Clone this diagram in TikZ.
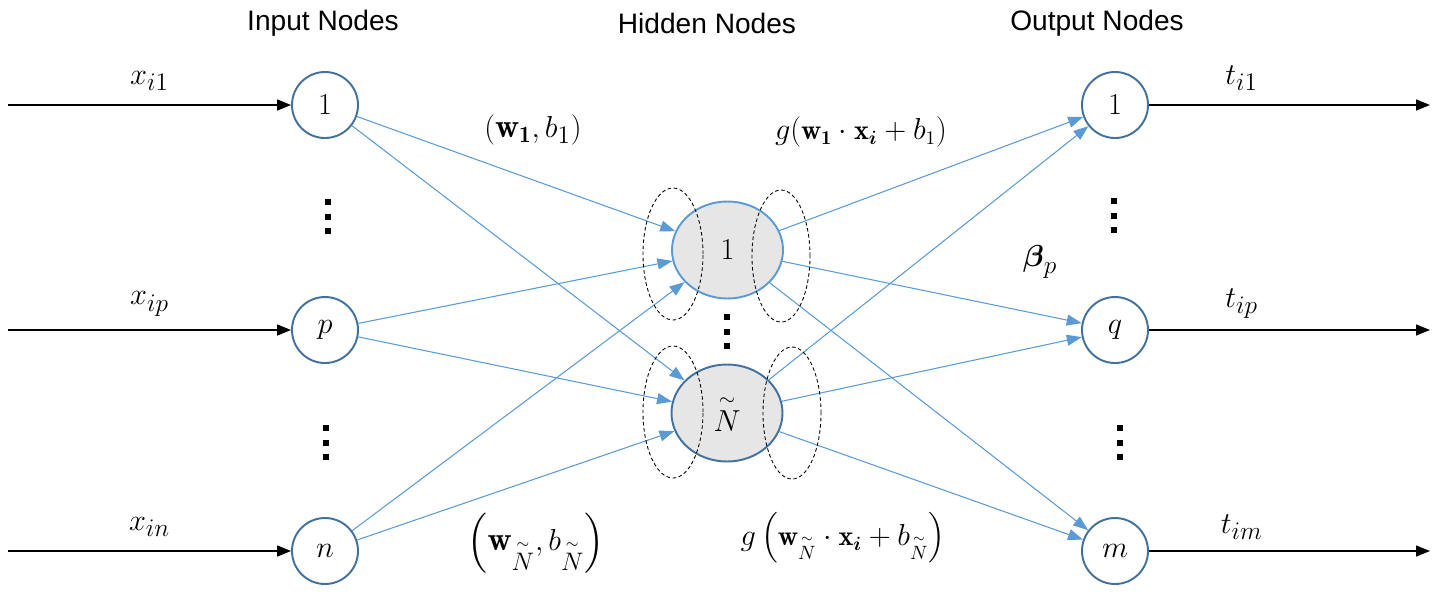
\documentclass[tikz,border=0pt]{standalone}
\usepackage{amsmath}
\usepackage{amssymb}
\usepackage{fontspec}
\newfontfamily\headfont{Liberation Sans}
\usetikzlibrary{arrows.meta,positioning,calc,shapes.geometric}
\definecolor{linkblue}{HTML}{5B9BD5}
\definecolor{rimblue}{HTML}{41719C}
\definecolor{hidgray}{HTML}{E6E6E6}
\newcommand{\Nt}{\overset{\sim}{N}}

\begin{document}
\begin{tikzpicture}[
  unit/.style={circle, draw=rimblue, line width=1.1pt, fill=white, minimum size=13.2mm, inner sep=0pt, font=\fontsize{18}{21}\selectfont},
  hid/.style={ellipse, draw=rimblue, line width=1.1pt, fill=hidgray, minimum width=22.2mm, minimum height=19.4mm, inner sep=0pt, font=\fontsize{17}{20}\selectfont},
  link/.style={linkblue, line width=0.6pt, -{Triangle[length=3mm,width=2.2mm]}},
  io/.style={black, line width=0.8pt, -{Triangle[length=2.8mm,width=2.2mm]}},
  lab/.style={font=\fontsize{19}{22}\selectfont},
  wlab/.style={font=\fontsize{16}{19}\selectfont},
  head/.style={font=\headfont\fontsize{16}{19}\selectfont},
  ring/.style={dash pattern=on 2pt off 1.5pt, line width=0.5pt}]
  \useasboundingbox (0,0) rectangle (28.74,-11.88);
  % column headings
  \node[head] (hin) at (6.46,-0.46) {Input Nodes};
  \node[head] (hhid) at (14.14,-0.46) {Hidden Nodes};
  \node[head] (hout) at (21.94,-0.46) {Output Nodes};
  % input, hidden and output units
  \node[unit] (in1) at (6.5,-2.1) {$1$};
  \node[unit] (inp) at (6.5,-6.6) {$p$};
  \node[unit] (inn) at (6.5,-11.02) {$n$};
  \node[hid, draw=linkblue] (hid1) at (14.55,-5.0) {$1$};
  \node[hid] (hidN) at (14.54,-8.26) {$\Nt$};
  \node[unit] (out1) at (22.3,-2.1) {$1$};
  \node[unit] (outq) at (22.3,-6.6) {$q$};
  \node[unit] (outm) at (22.3,-11.02) {$m$};
  % links
  \foreach \s in {in1,inp,inn} {
    \foreach \t in {hid1,hidN} {
      \draw[link] (\s) -- (\t);
    }
  }
  \foreach \s in {hid1,hidN} {
    \foreach \t in {out1,outq,outm} {
      \draw[link] (\s) -- (\t);
    }
  }
  % inputs and targets
  \foreach \y/\u in {-2.1/1, -6.6/p, -11.02/n} {
    \coordinate (xs\u) at (0.16,\y);
    \coordinate (te\u) at (28.6,\y);
  }
  \draw[io] (xs1) -- node[lab, above=1.5mm] {$x_{i1}$} (in1);
  \draw[io] (xsp) -- node[lab, above=1.5mm] {$x_{ip}$} (inp);
  \draw[io] (xsn) -- node[lab, above=1.5mm] {$x_{in}$} (inn);
  \draw[io] (out1) -- node[lab, above=1.5mm, pos=0.33] {$t_{i1}$} (te1);
  \draw[io] (outq) -- node[lab, above=1mm, pos=0.33] {$t_{ip}$} (tep);
  \draw[io] (outm) -- node[lab, above=1mm, pos=0.33] {$t_{im}$} (ten);
  % dashed rings round the hidden units
  \draw[ring] (13.46,-5.08) ellipse [x radius=0.6, y radius=1.32];
  \draw[ring] (15.62,-5.12) ellipse [x radius=0.58, y radius=1.32];
  \draw[ring] (13.46,-8.24) ellipse [x radius=0.6, y radius=1.32];
  \draw[ring] (15.84,-8.26) ellipse [x radius=0.58, y radius=1.32];
  % vertical dots
  \foreach \x/\y in {6.56/-4.04, 6.52/-8.56, 22.28/-4.02, 22.4/-8.56, 14.54/-6.34} {
    \foreach \k in {0,1,2} {
      \fill ({\x-0.06},{\y-0.29*\k-0.06}) rectangle ++(0.12,0.12);
    }
  }
  % weights and activations
  \node[lab] (w1) at (10.66,-2.6) {$(\mathbf{w}_{\mathbf{1}}, b_1)$};
  \node[wlab] (g1) at (17.22,-2.64) {$g(\mathbf{w}_{\mathbf{1}}\cdot\mathbf{x}_{\boldsymbol{i}} + b_1)$};
  \node[lab] (wN) at (10.72,-10.86) {$\left(\mathbf{w}_{\Nt}, b_{\Nt}\right)$};
  \node[wlab] (gN) at (16.86,-10.76) {$g\left(\mathbf{w}_{\Nt}\cdot\mathbf{x}_{\boldsymbol{i}} + b_{\Nt}\right)$};
  \node[lab] (beta) at (20.8,-5.24) {$\boldsymbol{\beta}_p$};
\end{tikzpicture}
\end{document}
